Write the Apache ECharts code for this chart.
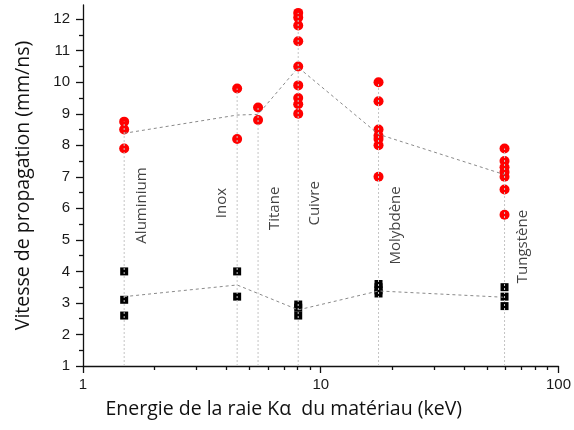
<!DOCTYPE html>
<html><head><meta charset="utf-8">
<script src="https://cdn.jsdelivr.net/npm/echarts@6/dist/echarts.min.js"></script>
<style>html,body{margin:0;padding:0;background:#fff}#c{width:574px;height:430px}</style>
</head><body><div id="c"></div>
<script>
// ---- data ----
const materials = ['Aluminium', 'Inox', 'Titane', 'Cuivre', 'Molybdène', 'Tungstène'];
const energies = [1.49, 4.45, 5.45, 8.04, 17.5, 59.3];

const redAluminium = [8.75, 8.5, 7.9];
const redInox = [9.8, 8.2];
const redTitane = [9.2, 8.8];
const redCuivre = [12.2, 12.05, 11.8, 11.3, 10.5, 9.9, 9.5, 9.3, 9.0];
const redMolybdene = [10.0, 9.4, 8.5, 8.3, 8.2, 8.0, 7.0];
const redTungstene = [7.9, 7.5, 7.3, 7.15, 7.0, 6.6, 5.8];

const blackAluminium = [4.0, 3.1, 2.6];
const blackInox = [4.0, 3.2];
const blackTitane = [];
const blackCuivre = [2.95, 2.85, 2.6];
const blackMolybdene = [3.6, 3.5, 3.4, 3.3];
const blackTungstene = [3.5, 3.2, 2.9];

const redMean = [8.38, 8.96, 8.98, 10.47, 8.35, 7.07];
const blackMean = [3.2, 3.57, null, 2.78, 3.38, 3.18];

const labelY = [6.09, 6.17, 6.0, 6.16, 5.46, 4.79];

const yTickLabels = [1, 2, 3, 4, 5, 6, 7, 8, 9, 10, 11, 12];
const yMinorTicks = [1.5, 2.5, 3.5, 4.5, 5.5, 6.5, 7.5, 8.5, 9.5, 10.5, 11.5];
const xTickLabels = [1, 10, 100];
const xMinorTicks = [2, 3, 4, 5, 6, 7, 8, 9, 20, 30, 40, 50, 60, 70, 80, 90];

// ---- build ----
const redGroups = [redAluminium, redInox, redTitane, redCuivre, redMolybdene, redTungstene];
const blackGroups = [blackAluminium, blackInox, blackTitane, blackCuivre, blackMolybdene, blackTungstene];
const redData = [], blackData = [];
redGroups.forEach((g, i) => g.forEach(v => redData.push([energies[i], v])));
blackGroups.forEach((g, i) => g.forEach(v => blackData.push([energies[i], v])));

// horizontal shift (px) of each rotated label from its vertical line
const labelOffsets = [18, -15, 17, 17, 17, 18];

const series = [];
energies.forEach((e, i) => {
  series.push({
    type: 'line', silent: true, symbol: 'none', z: 4,
    data: [[e, 1], [e, Math.max.apply(null, redGroups[i])]],
    lineStyle: { color: '#c4c4c4', width: 1, type: [2, 2] }
  });
});
series.push({
  type: 'line', silent: true, symbol: 'none', z: 3,
  data: energies.map((e, i) => [e, redMean[i]]),
  lineStyle: { color: '#8a8a8a', width: 1, type: [3, 3] }
});
series.push({
  type: 'line', silent: true, symbol: 'none', z: 3,
  data: energies.map((e, i) => [e, blackMean[i]]).filter(d => d[1] !== null),
  lineStyle: { color: '#8a8a8a', width: 1, type: [3, 3] }
});
series.push({
  type: 'scatter', z: 2, symbol: 'circle', symbolSize: 10,
  itemStyle: { color: '#ff0000', opacity: 1 }, data: redData
});
series.push({
  type: 'scatter', z: 2, symbol: 'rect', symbolSize: 8,
  itemStyle: { color: '#000000', opacity: 1 }, data: blackData
});
series.push({
  type: 'scatter', z: 5, symbolSize: 0, silent: true,
  data: materials.map((m, i) => ({
    value: [energies[i], labelY[i]], name: m,
    label: { offset: [0, labelOffsets[i]] }
  })),
  label: {
    show: true, position: 'inside', rotate: 90, formatter: '{b}',
    align: 'center', verticalAlign: 'middle',
    fontFamily: 'Open Sans', fontSize: 15, color: '#111'
  }
});

const fontTick = { fontFamily: 'Liberation Sans', fontSize: 15, color: '#1a1a1a' };

const option = {
  animation: false,
  backgroundColor: '#fff',
  grid: { left: 83, right: 13, top: 5, bottom: 64 },
  xAxis: [{
    type: 'log', logBase: 10, min: 1, max: 100, position: 'bottom',
    axisLine: { onZero: false, lineStyle: { color: '#111', width: 1.3 } },
    axisTick: { customValues: xTickLabels, length: 7, lineStyle: { color: '#111', width: 1.3 } },
    axisLabel: Object.assign({ customValues: xTickLabels, margin: 11 }, fontTick),
    splitLine: { show: false },
    name: 'Energie de la raie Kα  du matériau (keV)', nameLocation: 'middle', nameGap: 33,
    nameTextStyle: { fontFamily: 'Open Sans', fontSize: 19.5, color: '#111', padding: [0, 74, 0, 0] }
  }, {
    type: 'log', logBase: 10, min: 1, max: 100, position: 'bottom',
    axisLine: { show: false, onZero: false },
    axisTick: { customValues: xMinorTicks, length: 4, lineStyle: { color: '#111', width: 1.3 } },
    axisLabel: { show: false }, splitLine: { show: false }
  }],
  yAxis: [{
    type: 'value', min: 1, max: 12.45, position: 'left',
    axisLine: { show: true, onZero: false, lineStyle: { color: '#111', width: 1.3 } },
    axisTick: { show: true, customValues: yTickLabels, length: 7, lineStyle: { color: '#111', width: 1.3 } },
    axisLabel: Object.assign({ customValues: yTickLabels, margin: 13 }, fontTick),
    splitLine: { show: false },
    name: 'Vitesse de propagation (mm/ns)', nameLocation: 'middle', nameGap: 50,
    nameTextStyle: { fontFamily: 'Open Sans', fontSize: 19.5, color: '#111' }
  }, {
    type: 'value', min: 1, max: 12.45, position: 'left',
    axisLine: { show: false, onZero: false },
    axisTick: { show: true, customValues: yMinorTicks, length: 4, lineStyle: { color: '#111', width: 1.3 } },
    axisLabel: { show: false }, splitLine: { show: false }
  }],
  series: series
};

const chart = echarts.init(document.getElementById('c'), null, { renderer: 'canvas' });
chart.setOption(option);
</script>
</body></html>
